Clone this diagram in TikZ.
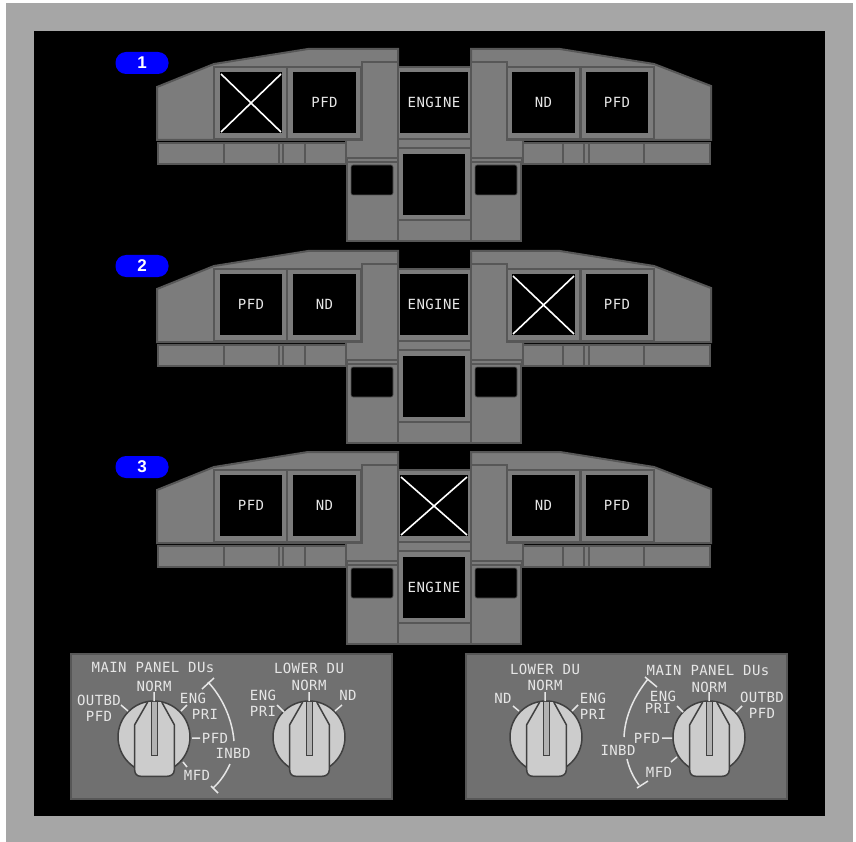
\documentclass[tikz,border=0pt]{standalone}
\usepackage{fontspec}
\setmainfont{Liberation Sans}
\newfontfamily\monof[LetterSpace=3]{DejaVu Sans Mono}
\definecolor{pg}{HTML}{7C7C7C}
\definecolor{pl}{HTML}{575757}
\definecolor{tx}{HTML}{E6E6E6}
\definecolor{kn}{HTML}{CCCCCC}
\tikzset{
 pan/.style={fill=pg,draw=pl,line width=2pt,line join=miter},
 frm/.style={fill=pg,draw=pl,line width=2.4pt,line join=miter},
 scr/.style={fill=black},
 lab/.style={text=tx,inner sep=0pt,font=\monof\fontsize{14}{14}\selectfont},
 mark line/.style={draw=tx,line width=1.5pt},
 cross/.style={draw=white,line width=1.6pt},
 pill/.style={fill=blue,rounded corners=10.5pt,text=white,font=\bfseries\fontsize{17}{17}\selectfont,inner sep=0pt},
 panel box/.style={fill=pg!90!black,draw=pl,line width=2.2pt},
 knobc/.style={fill=kn,draw=black!75,line width=1.5pt},
}
% #1 name, #2 y offset, #3 label, #4 left1 content, #5 left2, #6 top, #7 bottom, #8 right1, #9 right2
\newcommand{\unit}[9]{%
\begin{scope}[yshift=-#2pt]
 % wings
 \draw[pan] (157,87) -- (214,64) -- (308,49) -- (398,49) -- (398,158) -- (346,158) -- (346,140) -- (157,140) -- cycle;
 \draw[pan] (711,86) -- (654,64) -- (560,49) -- (471,49) -- (471,158) -- (523,158) -- (523,140) -- (711,140) -- cycle;
 % lower strips
 \draw[pan] (158,143) rectangle (346,164);
 \draw[pan] (224,143) -- (224,164) (279,143) -- (279,164) (283,143) -- (283,164) (305,143) -- (305,164);
 \draw[pan] (523,143) rectangle (710,164);
 \draw[pan] (563,143) -- (563,164) (584,143) -- (584,164) (589,143) -- (589,164) (644,143) -- (644,164);
 % columns
 \draw[pan] (362,62) -- (398,62) -- (398,158) -- (346,158) -- (346,140) -- (362,140) -- cycle;
 \draw[pan] (471,62) -- (507,62) -- (507,140) -- (523,140) -- (523,158) -- (471,158) -- cycle;
 \draw[pan] (347,158) rectangle (398,162);
 \draw[pan] (471,158) rectangle (522,162);
 \draw[pan] (347,162) rectangle (398,241);
 \draw[pan] (471,162) rectangle (521,241);
 \fill[black,rounded corners=2pt,draw=pl,line width=.6pt] (351,165) rectangle (393,195);
 \fill[black,rounded corners=2pt,draw=pl,line width=.6pt] (475,165) rectangle (517,195);
 % centre
 \draw[pan] (398,67) rectangle (471,139);
 \draw[pan] (398,139) rectangle (471,148);
 \draw[pan] (398,148) rectangle (471,220);
 \draw[pan] (398,220) rectangle (471,241);
 % frames
 \draw[frm] (214,67) rectangle (287,139);
 \draw[frm] (287,67) rectangle (361,139);
 \draw[frm] (507,67) rectangle (580,139);
 \draw[frm] (581,67) rectangle (654,139);
 % screens
 \screen{#1a}{220}{72}{282}{133}{#4}
 \screen{#1b}{293}{72}{356}{133}{#5}
 \screen{#1c}{400}{72}{468}{133}{#6}
 \screen{#1d}{403}{154}{465}{215}{#7}
 \screen{#1e}{512}{72}{575}{133}{#8}
 \screen{#1f}{586}{72}{648}{133}{#9}
 \node[pill,minimum width=53pt,minimum height=22pt] (#1p) at (142,{63+min(#2,1)}) {#3};
\end{scope}}
\newcommand{\screen}[6]{%
 \fill[scr] (#2,#3) rectangle (#4,#5);
 \if\relax\detokenize{#6}\relax
 \else\ifx X#6\relax
  \draw[cross] (#2+1,#3+2) -- (#4-1,#5-1) (#2+1,#5-1) -- (#4-1,#3+2);
 \else
  \node[lab] (#1) at ({(#2+#4)/2},{(#3+#5)/2-0.5}) {#6};
 \fi\fi}
\newcommand{\knob}[2]{%
 \begin{scope}[shift={(#1,#2)}]
 \draw[knobc] (0,0) circle (36);
 \draw[knobc,line join=round] (-6.3,-35) -- (-19.3,-12.3) -- (-19.3,33) .. controls (-19.3,37) and (-17,39.3) .. (-13,39.3) -- (13,39.3) .. controls (17,39.3) and (20.3,37) .. (20.3,33) -- (20.3,-12.3) -- (7.7,-35);
 \draw[fill=black!30,draw=black!75,line width=1.4pt] (-2.5,-35) -- (-2.5,18.5) -- (3.3,18.5) -- (3.3,-35);
 \end{scope}}
\begin{document}
\begin{tikzpicture}[x=1pt,y=-1pt]
\useasboundingbox (0,0) rectangle (856,842);
\fill[white] (0,0) rectangle (856,842);
\fill[black!35] (6,3) rectangle (853,842);
\fill[black] (34,31) rectangle (825,816);
\unit{u}{0}{1}{X}{PFD}{ENGINE}{}{ND}{PFD}
\unit{v}{202}{2}{PFD}{ND}{ENGINE}{}{X}{PFD}
\unit{w}{403}{3}{PFD}{ND}{X}{ENGINE}{ND}{PFD}
% lower panels
\draw[panel box] (71,654) rectangle (392,799);
\draw[panel box] (466,654) rectangle (787,799);
\knob{154}{737}
\knob{309}{737}
\knob{546}{737}
\knob{709}{737}
% left labels
\node[lab] (a1) at (153,667) {MAIN PANEL DUs};
\node[lab] (a2) at (309,668) {LOWER DU};
\node[lab] (a3) at (154,686) {NORM};
\node[lab] (a4) at (99,700) {OUTBD};
\node[lab] (a5) at (99,716) {PFD};
\node[lab] (a6) at (193,698) {ENG};
\node[lab] (a7) at (205,714) {PRI};
\node[lab] (a8) at (215,738) {PFD};
\node[lab] (a9) at (233,753) {INBD};
\node[lab] (a10) at (197,775) {MFD};
\node[lab] (a11) at (263,695) {ENG};
\node[lab] (a12) at (263,711) {PRI};
\node[lab] (a13) at (309,685) {NORM};
\node[lab] (a14) at (348,695) {ND};
% left ticks
\draw[mark line] (121,705) -- (128,711) (154,692) -- (154,701) (181,711) -- (187,705) (192,738) -- (200,738) (183,762) -- (187,767);
\draw[mark line] (202,689) -- (214,678) (208,682) .. controls (222,697) and (232,718) .. (234,741);
\draw[mark line] (230,764) .. controls (226,773) and (220,782) .. (213,788) (211,786) -- (218,793);
\draw[mark line] (277,705) -- (284,712) (309,692) -- (309,701) (342,705) -- (335,711);
% right labels
\node[lab] (b1) at (545,669) {LOWER DU};
\node[lab] (b2) at (545,685) {NORM};
\node[lab] (b3) at (503,698) {ND};
\node[lab] (b4) at (593,698) {ENG};
\node[lab] (b5) at (593,714) {PRI};
\node[lab] (b6) at (708,670) {MAIN PANEL DUs};
\node[lab] (b7) at (709,687) {NORM};
\node[lab] (b8) at (663,696) {ENG};
\node[lab] (b9) at (658,708) {PRI};
\node[lab] (b10) at (762,697) {OUTBD};
\node[lab] (b11) at (762,713) {PFD};
\node[lab] (b12) at (647,738) {PFD};
\node[lab] (b13) at (618,750) {INBD};
\node[lab] (b14) at (659,772) {MFD};
% right ticks
\draw[mark line] (513,706) -- (519,711) (545,692) -- (545,701) (572,711) -- (578,705);
\draw[mark line] (677,706) -- (683,712) (709,692) -- (709,701) (736,712) -- (742,706) (662,738) -- (672,738) (671,762) -- (677,757);
\draw[mark line] (645,677) -- (657,687) (648,679) .. controls (635,695) and (625,715) .. (624,737);
\draw[mark line] (627,759) .. controls (629,768) and (633,777) .. (639,785) (637,788) -- (648,781);
\end{tikzpicture}
\end{document}
